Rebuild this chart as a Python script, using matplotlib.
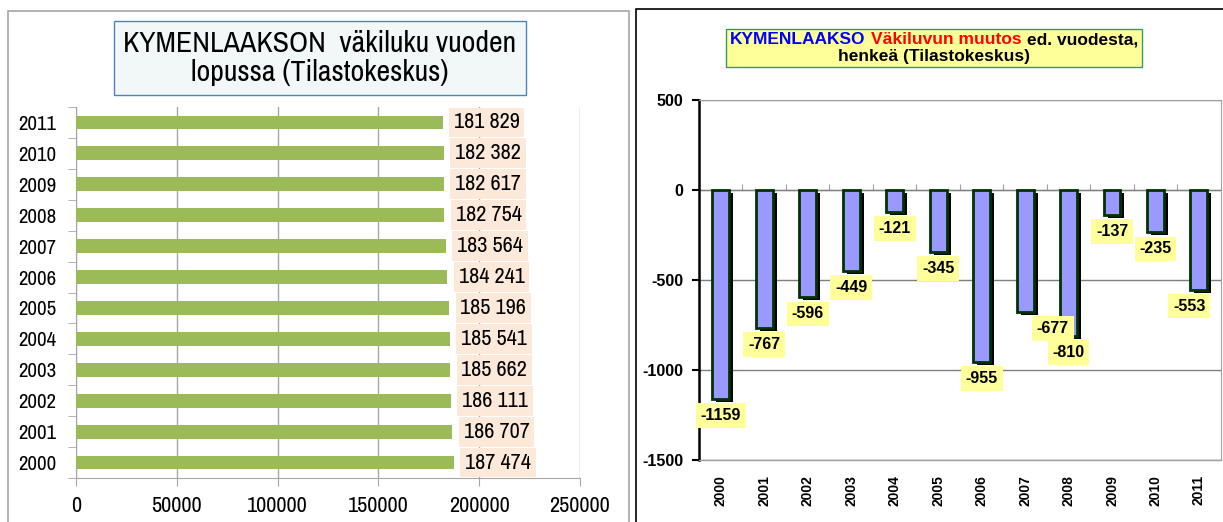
import matplotlib
matplotlib.use("Agg")
import matplotlib.pyplot as plt
import numpy as np
from matplotlib.offsetbox import TextArea, HPacker, VPacker, AnchoredOffsetbox
from matplotlib.patches import Rectangle
import matplotlib.transforms as mtransforms

# data
years = [2000, 2001, 2002, 2003, 2004, 2005, 2006, 2007, 2008, 2009, 2010, 2011]
population = [187474, 186707, 186111, 185662, 185541, 185196, 184241, 183564,
              182754, 182617, 182382, 181829]
change = [-1159, -767, -596, -449, -121, -345, -955, -677, -810, -137, -235, -553]

narrow = ["Archivo Narrow", "Liberation Sans Narrow", "DejaVu Sans"]
arial = ["Liberation Sans", "DejaVu Sans"]

W, H = 1223, 522
fig = plt.figure(figsize=(W / 100, H / 100), dpi=100)

# panel frames
fig.patches.append(Rectangle((8 / W, -0.1), (629 - 8) / W, 1.1 - 11 / H,
                             transform=fig.transFigure, fill=False,
                             edgecolor="#a6a6a6", linewidth=1.2))
fig.patches.append(Rectangle((636 / W, -0.1), 0.5, 1.1 - 9 / H,
                             transform=fig.transFigure, fill=False,
                             edgecolor="black", linewidth=1.2))

# ---------- left chart ----------
ax1 = fig.add_axes([76 / W, 44 / H, 504 / W, 371 / H])
pos = np.arange(len(years))
ax1.barh(pos, population, height=0.45, color="#9bbb59", zorder=3)
ax1.set_xlim(0, 250000)
ax1.set_ylim(-0.5, len(years) - 0.5)
ax1.set_xticks(np.arange(0, 250001, 50000))
ax1.set_xticklabels([str(v) for v in range(0, 250001, 50000)])
ax1.set_yticks(pos)
ax1.set_yticklabels([str(y) for y in years])
ax1.set_yticks(np.arange(-0.5, len(years), 1), minor=True)
ax1.tick_params(axis="y", which="major", length=0, pad=14)
ax1.tick_params(axis="y", which="minor", length=6, color="#a6a6a6")
ax1.tick_params(axis="x", length=6, color="#a6a6a6", pad=7)
for lab in ax1.get_xticklabels():
    lab.set_fontfamily(narrow)
    lab.set_fontsize(16)
for lab in ax1.get_yticklabels():
    lab.set_fontfamily(narrow)
    lab.set_fontsize(15)
ax1.grid(axis="x", color="#a6a6a6", linewidth=1)
ax1.set_axisbelow(True)
for s in ["top", "right"]:
    ax1.spines[s].set_visible(False)
for s in ["left", "bottom"]:
    ax1.spines[s].set_color("#a6a6a6")
for p, v in zip(pos, population):
    txt = f"{v:,}".replace(",", " ")
    ax1.annotate(txt, (v, p), xytext=(8, 0), textcoords="offset points",
                 ha="left", va="center", fontsize=16, fontfamily=narrow,
                 bbox=dict(boxstyle="square,pad=0.22", fc="#fde9d9", ec="none"),
                 zorder=4)

fig.text(320 / W, 1 - 58 / H, "KYMENLAAKSON  väkiluku vuoden\nlopussa (Tilastokeskus)",
         ha="center", va="center", fontsize=21.5, fontfamily=narrow,
         linespacing=1.1,
         bbox=dict(boxstyle="square,pad=0.3", fc="#f2f8f8", ec="#4f81bd", lw=1))

# ---------- right chart ----------
ax2 = fig.add_axes([699 / W, 62 / H, 521.7 / W, 360 / H])
x = np.arange(len(years))
shadow = mtransforms.offset_copy(ax2.transData, fig=fig, x=4, y=-3, units="dots")
ax2.bar(x, change, width=0.39, color="black", transform=shadow, zorder=2)
ax2.bar(x, change, width=0.39, color="#9999ff", edgecolor="#003300",
        linewidth=2, zorder=3)
ax2.set_xlim(-0.5, len(years) - 0.5)
ax2.set_ylim(-1500, 500)
ax2.set_yticks([500, 0, -500, -1000, -1500])
ax2.set_yticklabels(["500", "0", "-500", "-1000", "-1500"])
ax2.tick_params(axis="y", length=5, width=1.5, pad=6)
for lab in ax2.get_yticklabels():
    lab.set_fontfamily(arial)
    lab.set_fontweight("bold")
    lab.set_fontsize(11.5)
ax2.set_xticks([])
ax2.grid(axis="y", color="#7f7f7f", linewidth=1)
ax2.set_axisbelow(True)
ax2.spines["left"].set_linewidth(1.8)
for s in ["top", "right", "bottom"]:
    ax2.spines[s].set_color("#a0a0a0")

zero_frac = (0 - ax2.get_ylim()[0]) / (ax2.get_ylim()[1] - ax2.get_ylim()[0])
zax = ax2.secondary_xaxis(zero_frac)
zax.set_xticks(np.arange(0.5, len(years) - 1, 1))
zax.set_xticklabels([])
zax.tick_params(length=4, color="#a0a0a0", direction="out")
zax.spines["bottom"].set_linewidth(1.8)
zax.spines["bottom"].set_color("black")

lax = ax2.secondary_xaxis(0.0)
lax.set_xticks(x)
lax.set_xticklabels([str(y) for y in years], rotation=90, fontsize=10,
                    fontweight="bold", fontfamily=arial)
lax.tick_params(length=0, pad=11)

nudge = {2007: 20, 2011: -7}
for xi, yr, v in zip(x, years, change):
    ax2.annotate(str(v), (xi, v), xytext=(nudge.get(yr, 0), -12),
                 textcoords="offset points", ha="center", va="center",
                 fontsize=11.5, fontweight="bold", fontfamily=arial,
                 bbox=dict(boxstyle="square,pad=0.3", fc="#ffff99", ec="none"),
                 zorder=5)

props = dict(fontsize=12.5, fontweight="bold", fontfamily=arial)
line1 = HPacker(children=[TextArea("KYMENLAAKSO", textprops=dict(color="#0000ff", **props)),
                          TextArea("Väkiluvun muutos", textprops=dict(color="#ff0000", **props)),
                          TextArea("ed. vuodesta,", textprops=dict(color="black", **props))],
                align="baseline", pad=0, sep=4)
line2 = TextArea("henkeä (Tilastokeskus)", textprops=dict(color="black", **props))
box = VPacker(children=[line1, line2], align="center", pad=0, sep=1)
anch = AnchoredOffsetbox(loc="center", child=box, pad=0.25, borderpad=0, frameon=True,
                         bbox_to_anchor=(934 / W, 1 - 48 / H),
                         bbox_transform=fig.transFigure)
anch.patch.set_facecolor("#ffff99")
anch.patch.set_edgecolor("#339966")
anch.patch.set_boxstyle("square,pad=0")
fig.add_artist(anch)

fig.savefig("out.png", dpi=100)
